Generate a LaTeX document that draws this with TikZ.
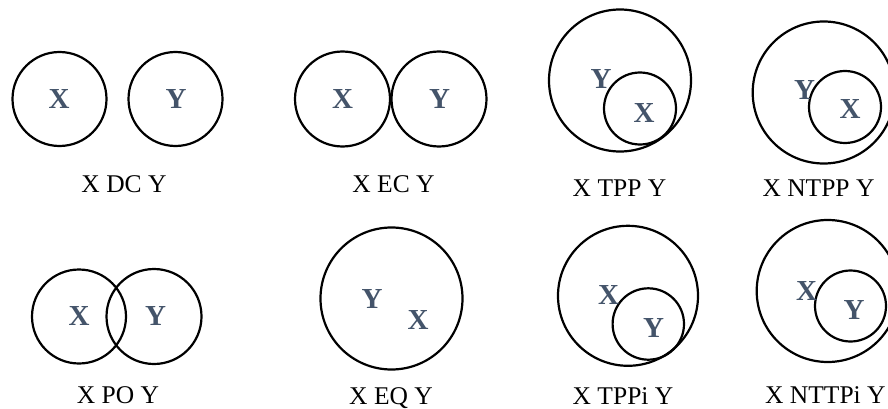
\documentclass[tikz,border=0pt]{standalone}
\usepackage{fontspec}
\setmainfont{Liberation Serif}
\definecolor{lblc}{HTML}{44546A}
\begin{document}
\begin{tikzpicture}[x=1pt,y=-1pt,
  ring/.style={draw=black,line width=2.2pt},
  lbl/.style={anchor=base,inner sep=0pt,text=lblc,font=\fontsize{29}{29}\selectfont\bfseries},
  captxt/.style={anchor=base,inner sep=0pt,text=black,font=\fontsize{25.5}{25.5}\selectfont}]
\useasboundingbox (0,0) rectangle (888,409);
\clip (0,0) rectangle (888,409);
% DC
\draw[ring] (59.5,99) circle (47);
\draw[ring] (175.5,99) circle (47);
\node[lbl] (dcx) at (59,108.5) {X};
\node[lbl] (dcy) at (176,108.5) {Y};
\node[captxt] (dc) at (124,192) {X DC Y};
% EC
\draw[ring] (342.5,99) circle (47.5);
\draw[ring] (439,99) circle (47.5);
\node[lbl] (ecx) at (342.5,108.5) {X};
\node[lbl] (ecy) at (439.5,108.5) {Y};
\node[captxt] (ec) at (393.5,192) {X EC Y};
% TPP
\draw[ring] (620,80.5) circle (71);
\draw[ring] (640,108.5) circle (36);
\node[lbl] (tppy) at (601,89) {Y};
\node[lbl] (tppx) at (644,122) {X};
\node[captxt] (tpp) at (619.5,196) {X TPP Y};
% NTPP
\draw[ring] (823.7,92.5) circle (71);
\draw[ring] (845,107) circle (36);
\node[lbl] (ntppy) at (804.5,100) {Y};
\node[lbl] (ntppx) at (850,119) {X};
\node[captxt] (ntpp) at (818.5,196) {X NTPP Y};
% PO
\draw[ring] (79,316.5) circle (47);
\draw[ring] (154,316.5) circle (47.5);
\node[lbl] (pox) at (79,325) {X};
\node[lbl] (poy) at (155.5,325) {Y};
\node[captxt] (po) at (118,403) {X PO Y};
% EQ
\draw[ring] (391.5,298.5) circle (71);
\node[lbl] (eqy) at (372,308) {Y};
\node[lbl] (eqx) at (418,329) {X};
\node[captxt] (eq) at (391,404) {X EQ Y};
% TPPi
\draw[ring] (628,295.8) circle (70);
\draw[ring] (648.3,324) circle (35.7);
\node[lbl] (tppix) at (608.5,304) {X};
\node[lbl] (tppiy) at (653.5,337) {Y};
\node[captxt] (tppi) at (623,404) {X TPPi Y};
% NTTPi
\draw[ring] (827.7,291) circle (71);
\draw[ring] (850.5,306) circle (35.5);
\node[lbl] (ntppix) at (806.5,300) {X};
\node[lbl] (ntppiy) at (854,319) {Y};
\node[captxt,anchor=base west] (ntppi) at (765,403) {X NTTPi Y};
\end{tikzpicture}
\end{document}
